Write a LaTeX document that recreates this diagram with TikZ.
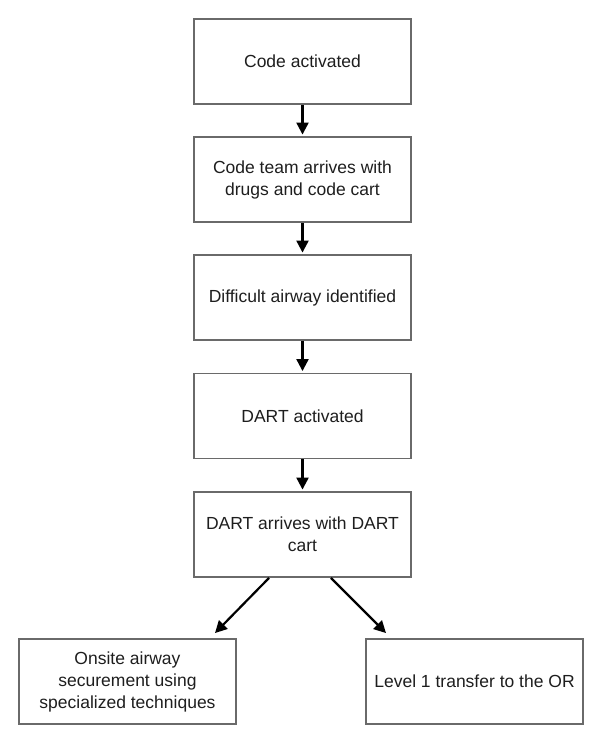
\documentclass[tikz,border=0pt]{standalone}
\usepackage{fontspec}
\setmainfont{Liberation Sans}
\usetikzlibrary{arrows.meta,calc}
\definecolor{boxgray}{HTML}{6A6A6A}
\definecolor{txt}{HTML}{1E1E1E}
\begin{document}
\begin{tikzpicture}[x=1pt,y=-1pt,
  box/.style={draw=boxgray, line width=1.9pt, minimum width=217pt, minimum height=85pt,
    align=center, inner sep=0pt, text=txt, font=\fontsize{17.5}{22}\selectfont},
  flow/.style={-{Triangle[length=12pt,width=12pt]}, line width=2.2pt, black}]
\useasboundingbox (0,0) rectangle (604,750);
\node[box] (b1) at (302.5,61.5) {Code activated};
\node[box] (b2) at (302.5,179.5) {Code team arrives with\\drugs and code cart};
\node[box] (b3) at (302.5,297.5) {Difficult airway identified};
\node[box] (b4) at (302.5,416) {DART activated};
\node[box] (b5) at (302.5,534.5) {DART arrives with DART\\cart};
\node[box] (l) at (127.5,681.5) {Onsite airway\\securement using\\specialized techniques};
\node[box] (r) at (474.5,681.5) {Level 1 transfer to the OR};
\draw[flow, shorten >=1.5pt] (b1) -- (b2);
\draw[flow, shorten >=1.5pt] (b2) -- (b3);
\draw[flow, shorten >=1.5pt] (b3) -- (b4);
\draw[flow, shorten >=1.5pt] (b4) -- (b5);
\draw[flow] ($(b5.south)+(-33.5,0)$) -- ($(l.north)+(87.5,-5)$);
\draw[flow] ($(b5.south)+(28.5,0)$) -- ($(r.north)+(-88.5,-5)$);
\end{tikzpicture}
\end{document}
